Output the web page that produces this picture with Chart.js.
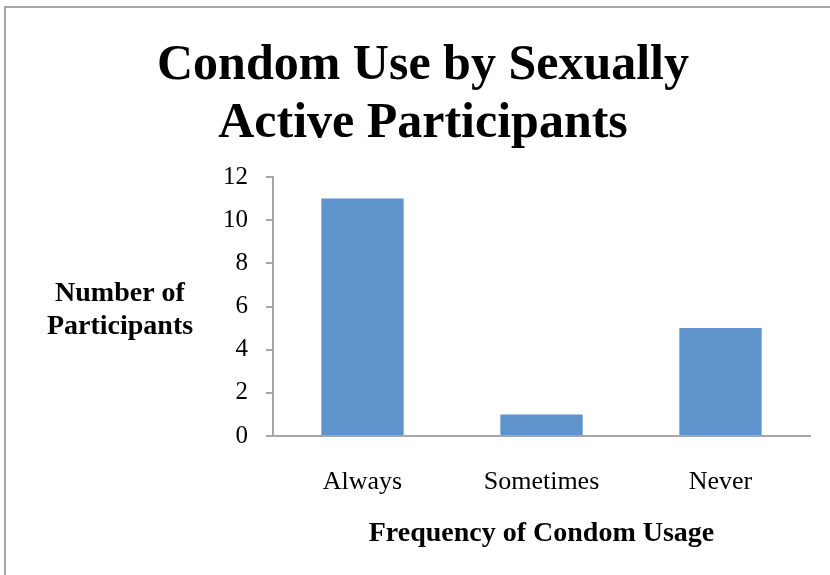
<!DOCTYPE html>
<html>
<head>
<meta charset="utf-8">
<script src="https://cdn.jsdelivr.net/npm/chart.js@4.4.0/dist/chart.umd.min.js"></script>
<style>
  html, body { margin: 0; padding: 0; background: #fff; }
  #wrap { width: 830px; height: 575px; }
</style>
</head>
<body>
<div id="wrap"><canvas id="chart" width="830" height="575"></canvas></div>
<script>
// data
const categories = ['Always', 'Sometimes', 'Never'];
const participants = [11, 1, 5];
const titleLines = ['Condom Use by Sexually', 'Active Participants'];
const yLabelLines = ['Number of', 'Participants'];
const xLabel = 'Frequency of Condom Usage';

const serif = "'Liberation Serif', 'Times New Roman', serif";

// frame round the chart (only top/left are visible in the picture)
const framePlugin = {
    id: 'frame',
    beforeDraw(chart)
    {
        let ctx = chart.ctx;
        ctx.save();
        ctx.fillStyle = '#fff';
        ctx.fillRect(0, 0, chart.width, chart.height);
        ctx.strokeStyle = '#a6a6a6';
        ctx.lineWidth = 2;
        ctx.strokeRect(5, 7, chart.width + 20, chart.height + 20);
        ctx.restore();
    }
};

// horizontal y axis title on the left
const yLabelPlugin = {
    id: 'yLabel',
    afterDraw(chart)
    {
        let ctx = chart.ctx;
        let mid = (chart.chartArea.top + chart.chartArea.bottom) / 2;
        ctx.save();
        ctx.font = 'bold 28px ' + serif;
        ctx.fillStyle = '#000';
        ctx.textAlign = 'center';
        ctx.textBaseline = 'middle';
        ctx.fillText(yLabelLines[0], 120, mid - 13);
        ctx.fillText(yLabelLines[1], 120, mid + 20);
        ctx.restore();
    }
};

new Chart(document.getElementById('chart').getContext('2d'),
{
    type: 'bar',
    data: {
        labels: categories,
        datasets: [{
            label: 'Participants',
            data: participants,
            backgroundColor: '#5e94cb',
            borderWidth: 0,
            barPercentage: 0.46,
            categoryPercentage: 1
        }]
    },
    options: {
        responsive: false,
        animation: false,
        layout: { padding: { left: 36, right: 20, top: 0, bottom: 24 } },
        plugins: {
            legend: { display: false },
            tooltip: { enabled: false },
            title: {
                display: true,
                text: titleLines,
                color: '#000',
                font: { family: serif, size: 50, weight: 'bold', lineHeight: 1.16 },
                padding: { top: 37, bottom: 24 }
            }
        },
        scales: {
            x: {
                afterFit: function (scale) { scale.height = 115; },
                grid: { display: false, drawTicks: false, tickLength: 0 },
                border: { display: true, color: '#a6a6a6', width: 2 },
                ticks: { color: '#000', font: { family: serif, size: 26 }, padding: 31 },
                title: {
                    display: true,
                    text: xLabel,
                    color: '#000',
                    font: { family: serif, size: 28, weight: 'bold', lineHeight: 1.2 },
                    padding: { top: 19, bottom: 0 }
                }
            },
            y: {
                min: 0,
                max: 12,
                afterFit: function (scale) { scale.width = 237; },
                grid: { drawOnChartArea: false, tickLength: 7, color: '#a6a6a6', lineWidth: 2 },
                border: { display: true, color: '#a6a6a6', width: 2 },
                ticks: { stepSize: 2, color: '#000', font: { family: serif, size: 25 }, padding: 18 }
            }
        }
    },
    plugins: [framePlugin, yLabelPlugin]
});
</script>
</body>
</html>
